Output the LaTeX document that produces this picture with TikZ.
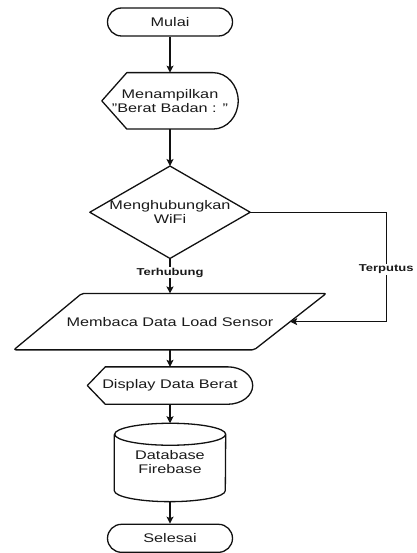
\documentclass[tikz,border=0pt]{standalone}
\usepackage{fontspec}
\setmainfont{Liberation Sans}[FakeStretch=1.3]
\usetikzlibrary{arrows.meta,positioning,calc}
\definecolor{inkline}{HTML}{111111}
\definecolor{inktext}{HTML}{1A1A1A}
\newcommand{\flowfont}{\fontsize{12.5}{14}\selectfont}
\newcommand{\labelfont}{\fontsize{10}{12}\selectfont\bfseries}
% outline of a "display" box: pointed left side, round right side
\newcommand{\displayoutline}[3]{%
  \draw[shapeline] (#1.west) -- ([xshift=#2]#1.north west) -- ([xshift=-#3]#1.north east)
    .. controls ([xshift=-0.45*#3]#1.north east) and ($(#1.east)!0.55!(#1.north east)$) .. (#1.east)
    .. controls ($(#1.east)!0.55!(#1.south east)$) and ([xshift=-0.45*#3]#1.south east) .. ([xshift=-#3]#1.south east)
    -- ([xshift=#2]#1.south west) -- cycle;}
\tikzset{
  shapeline/.style={draw=inkline, line width=1.3pt, line join=round},
  terminal/.style={
    rectangle, rounded corners=14pt, shapeline,
    minimum width=125pt, minimum height=28pt,
    font=\flowfont, text=inktext
  },
  hollow/.style 2 args={
    rectangle, inner sep=0pt, align=center,
    minimum width=#1, minimum height=#2,
    font=\flowfont, text=inktext
  },
  flowarrow/.style={-{Stealth[length=7pt,width=7pt,inset=1.5pt]}, line width=1.2pt, color=inkline},
  thinarrow/.style={-{Stealth[length=7pt,width=7pt,inset=1.5pt]}, line width=0.8pt, color=inkline},
  edgelabel/.style={fill=white, inner sep=1pt, font=\labelfont, text=inktext},
}
\begin{document}
\begin{tikzpicture}[x=1pt, y=1pt]
  \useasboundingbox (0,0) rectangle (416,-553);

  \node[terminal] (mulai) at (170,-22) {Mulai};
  \node[hollow={136pt}{56pt}, below=36pt of mulai] (tampil) {Menampilkan\\"Berat Badan : "};
  \node[hollow={160pt}{92pt}, below=37pt of tampil] (wifi) {Menghubungkan\\WiFi};
  \node[hollow={312pt}{56pt}, below=35pt of wifi] (baca) {Membaca Data Load Sensor};
  \node[hollow={165pt}{37pt}, below=17pt of baca] (berat) {Display Data Berat};
  \node[hollow={111pt}{78pt}, below=19pt of berat] (fb) {Database\\Firebase};
  \node[terminal, below=22pt of fb] (selesai) {Selesai};

  % outlines
  \displayoutline{tampil}{25pt}{25pt}
  \displayoutline{berat}{18pt}{25pt}
  \draw[shapeline] (wifi.north) -- (wifi.east) -- (wifi.south) -- (wifi.west) -- cycle;
  \draw[shapeline, rounded corners=2pt] (baca.south west) -- ([xshift=68pt]baca.north west)
    -- (baca.north east) -- ([xshift=-72pt]baca.south east) -- cycle;
  \draw[shapeline] ([yshift=-11pt]fb.north west) -- ([yshift=11pt]fb.south west)
    arc[start angle=180, end angle=360, x radius=55.5pt, y radius=11pt]
    -- ([yshift=-11pt]fb.north east)
    arc[start angle=0, end angle=180, x radius=55.5pt, y radius=11pt]
    arc[start angle=180, end angle=360, x radius=55.5pt, y radius=11pt];

  \foreach \a/\b in {mulai/tampil,tampil/wifi,baca/berat,berat/fb,fb/selesai}
    \draw[flowarrow] (\a) -- (\b);
  \draw[flowarrow] (wifi) -- node[edgelabel, pos=0.4] {Terhubung} (baca);
  \draw[thinarrow] (wifi.east) -- ++(136,0) |- node[edgelabel, pos=0.26] {Terputus} ([xshift=-36pt]baca.east);
\end{tikzpicture}
\end{document}
